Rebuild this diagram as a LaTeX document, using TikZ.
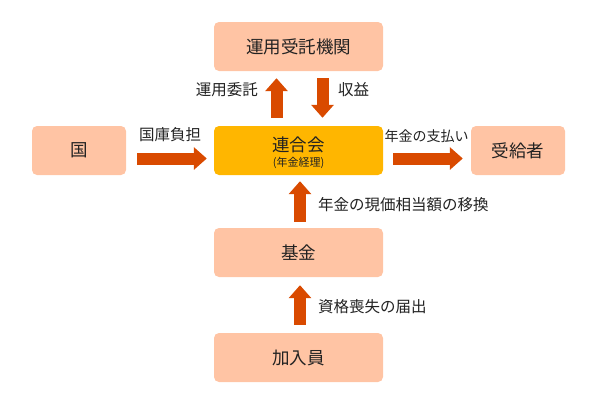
\documentclass[tikz,border=0pt]{standalone}
\usepackage{fontspec}
\setmainfont{Noto Sans CJK JP}
\usepackage{tikz}
\usetikzlibrary{arrows.meta,positioning}
\definecolor{peach}{HTML}{FFC4A4}
\definecolor{amber}{HTML}{FFB600}
\definecolor{rust}{HTML}{D94A00}
\definecolor{ink}{HTML}{222222}
\tikzset{
	box/.style={fill=peach,draw=none,rounded corners=5pt,minimum width=169pt,minimum height=49pt,inner sep=0pt,text=ink,font=\fontsize{17.5}{20}\selectfont},
	smallbox/.style={box,minimum width=94pt},
	flow/.style={draw=rust,line width=12pt,-{Triangle[width=22pt,length=13pt]}},
	lbl/.style={inner sep=0pt,text=ink,font=\fontsize{15.5}{18}\selectfont}
}
\begin{document}
\begin{tikzpicture}[x=1pt,y=-1pt]
	\useasboundingbox (0,0) rectangle (598,405);
	%% the boxes
	\node[box] (unyo) at (298.5,46.5) {運用受託機関};
	\node[smallbox] (kuni) at (79,150.5) {国};
	\node[box,fill=amber] (rengo) at (298.5,150.5) {};
	\node[inner sep=0pt,text=ink,font=\fontsize{17.5}{20}\selectfont] (rengoname) at (298.5,145) {連合会};
	\node[inner sep=0pt,text=ink,font=\fontsize{11}{13}\selectfont] (rengosub) at (298.5,163) {(年金経理)};
	\node[smallbox] (jukyu) at (518,150.5) {受給者};
	\node[box] (kikin) at (298.5,252.5) {基金};
	\node[box] (kanyu) at (298.5,357.5) {加入員};
	%% the arrows
	\draw[flow,shorten <=8pt,shorten >=7pt] ([xshift=-22pt]rengo.north) -- ([xshift=-22pt]unyo.south);
	\draw[flow,shorten <=7pt,shorten >=8pt] ([xshift=24pt]unyo.south) -- ([xshift=24pt]rengo.north);
	\draw[flow,shorten <=11pt,shorten >=7pt] ([yshift=-8pt]kuni.east) -- ([yshift=-8pt]rengo.west);
	\draw[flow,shorten <=10pt,shorten >=8pt] ([yshift=-8pt]rengo.east) -- ([yshift=-8pt]jukyu.west);
	\draw[flow,shorten <=6pt,shorten >=6pt] ([xshift=1.5pt]kikin.north) -- ([xshift=1.5pt]rengo.south);
	\draw[flow,shorten <=8pt,shorten >=8pt] ([xshift=1.5pt]kanyu.north) -- ([xshift=1.5pt]kikin.south);
	%% the labels
	\node[lbl,anchor=east] (itaku) at (258,90) {運用委託};
	\node[lbl,anchor=west] (shueki) at (338,90) {収益};
	\node[lbl] (futan) at (170,135) {国庫負担};
	\node[lbl,font=\fontsize{14}{16}\selectfont] (shiharai) at (426.5,136) {年金の支払い};
	\node[lbl,anchor=west] (ikan) at (318,205) {年金の現価相当額の移換};
	\node[lbl,anchor=west] (todoke) at (318,307) {資格喪失の届出};
\end{tikzpicture}
\end{document}
